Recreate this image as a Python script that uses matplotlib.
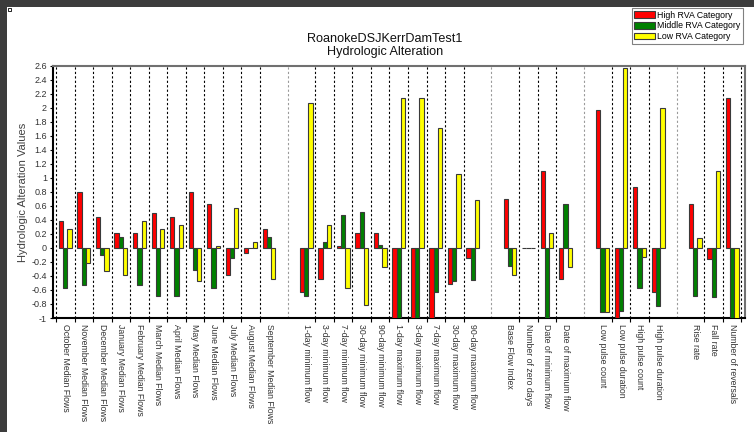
import numpy as np
import matplotlib
matplotlib.use('Agg')
import matplotlib.pyplot as plt
from matplotlib.patches import Patch, Rectangle
from matplotlib.ticker import FuncFormatter

plt.rcParams['font.family'] = ['Liberation Sans', 'DejaVu Sans']

TITLE = 'RoanokeDSJKerrDamTest1\nHydrologic Alteration'
YLABEL = 'Hydrologic Alteration Values'

categories = [
    'October Median Flows', 'November Median Flows', 'December Median Flows',
    'January Median Flows', 'February Median Flows', 'March Median Flows',
    'April Median Flows', 'May Median Flows', 'June Median Flows',
    'July Median Flows', 'August Median Flows', 'September Median Flows',
    '1-day minimum flow', '3-day minimum flow', '7-day minimum flow',
    '30-day minimum flow', '90-day minimum flow',
    '1-day maximum flow', '3-day maximum flow', '7-day maximum flow',
    '30-day maximum flow', '90-day maximum flow',
    'Base Flow Index', 'Number of zero days', 'Date of minimum flow',
    'Date of maximum flow',
    'Low pulse count', 'Low pulse duration', 'High pulse count',
    'High pulse duration',
    'Rise rate', 'Fall rate', 'Number of reversals',
]
# indicator groups, separated by one empty slot on the axis
group_sizes = [12, 10, 4, 4, 3]

high = [0.39, 0.80, 0.44, 0.21, 0.21, 0.50, 0.44, 0.80, 0.63, -0.38, -0.08, 0.27,
        -0.63, -0.45, 0.02, 0.21, 0.21, -1.0, -1.0, -1.0, -0.51, -0.15,
        0.69, 0.0, 1.09, -0.44,
        1.96, -1.0, 0.87, -0.63,
        0.63, -0.16, 2.13]
middle = [-0.57, -0.53, -0.10, 0.15, -0.53, -0.68, -0.68, -0.31, -0.57, -0.15, 0.0, 0.15,
          -0.69, 0.09, 0.47, 0.51, 0.04, -1.0, -1.0, -0.63, -0.47, -0.46,
          -0.26, 0.0, -1.0, 0.62,
          -0.91, -0.90, -0.57, -0.83,
          -0.68, -0.70, -1.0]
low = [0.27, -0.21, -0.33, -0.39, 0.38, 0.27, 0.33, -0.47, 0.03, 0.57, 0.085, -0.44,
       2.06, 0.33, -0.57, -0.81, -0.27, 2.13, 2.13, 1.71, 1.05, 0.68,
       -0.38, 0.0, 0.21, -0.27,
       -0.92, 2.57, -0.13, 2.00,
       0.14, 1.09, -1.0]

series = [('High RVA Category', high, '#ff0000'),
          ('Middle RVA Category', middle, '#008000'),
          ('Low RVA Category', low, '#ffff00')]

# slot index of every indicator, leaving a blank slot between groups
pos = []
slot = 0
for n in group_sizes:
    pos.extend(range(slot, slot + n))
    slot += n + 1
pos = np.array(pos)
n_slots = slot - 1
gaps = sorted(set(range(n_slots)) - set(pos))

# separators: every slot boundary, one line in the middle of a blank slot
sep_lines = [b - 0.5 for b in range(n_slots + 1)
             if (b - 1) not in gaps and b not in gaps]

fig = plt.figure(figsize=(7.54, 4.32), dpi=100)
fig.patch.set_facecolor('white')
# dark window frame on the top and left edges
fig.patches.append(Rectangle((0, 1 - 7 / 432), 1, 7 / 432, transform=fig.transFigure,
                             facecolor='#3c3c3c', edgecolor='none', zorder=0))
fig.patches.append(Rectangle((0, 0), 7 / 754, 1, transform=fig.transFigure,
                             facecolor='#3c3c3c', edgecolor='none', zorder=0))
fig.patches.append(Rectangle((7.5 / 754, 1 - 11 / 432), 3 / 754, 3 / 432,
                             transform=fig.transFigure, facecolor='white',
                             edgecolor='black', linewidth=0.6, zorder=1))

ax = fig.add_axes([52.5 / 754, 1 - 318 / 432, 692.5 / 754, 252.5 / 432])

for x in sep_lines:
    ax.axvline(x, color='black', lw=0.8, ls=(0, (2, 2)), zorder=1)
for g in gaps:
    ax.axvline(g, color='#9a9a9a', lw=0.8, ls=(0, (2, 2)), zorder=1)

w = 0.23
for k, (name, vals, col) in enumerate(series):
    ax.bar(pos + (k - 1) * w, vals, width=w, color=col, edgecolor='#3a3a3a',
           linewidth=0.8, zorder=3, label=name)

ax.set_xlim(-0.689, n_slots - 0.311)
ax.set_ylim(-1, 2.6)

ax.set_xticks(pos)
ax.set_xticklabels(categories, rotation=270, fontsize=6.3, color='#333333',
                   ha='center', va='top')
ax.set_xticks(sep_lines, minor=True)
ax.tick_params(axis='x', which='major', length=0, pad=4)
ax.tick_params(axis='x', which='minor', length=3, direction='out', width=0.8)

ax.set_yticks(np.round(np.arange(-1, 2.61, 0.2), 1))
ax.yaxis.set_major_formatter(FuncFormatter(lambda v, p: f'{round(v, 1) + 0.0:g}'))
ax.tick_params(axis='y', length=2.5, width=0.8, pad=1.5, labelsize=6.5,
               labelcolor='#333333')

for side in ('left', 'bottom'):
    ax.spines[side].set_color('black')
    ax.spines[side].set_linewidth(1.5)
for side in ('top', 'right'):
    ax.spines[side].set_color('#707070')
    ax.spines[side].set_linewidth(1.5)

fig.text(385 / 754, 1 - 45.5 / 432, TITLE, ha='center', va='center',
         fontsize=9.1, linespacing=1.2, color='#111111')
fig.text(23 / 754, 1 - 192 / 432, YLABEL, rotation=90, ha='center', va='center',
         fontsize=8, color='#404040')

handles = [Patch(facecolor=c, edgecolor='#3a3a3a', linewidth=0.8) for _, _, c in series]
leg = fig.legend(handles, [s[0] for s in series], loc='upper right',
                 bbox_to_anchor=(743 / 754, 1 - 8 / 432), fontsize=6.3,
                 fancybox=False, framealpha=1, edgecolor='#808080',
                 borderpad=0.3, borderaxespad=0, handlelength=2.3,
                 handleheight=0.75, handletextpad=0.3, labelspacing=0.2)
leg.get_frame().set_linewidth(0.8)

fig.savefig('out.png', dpi=100)
